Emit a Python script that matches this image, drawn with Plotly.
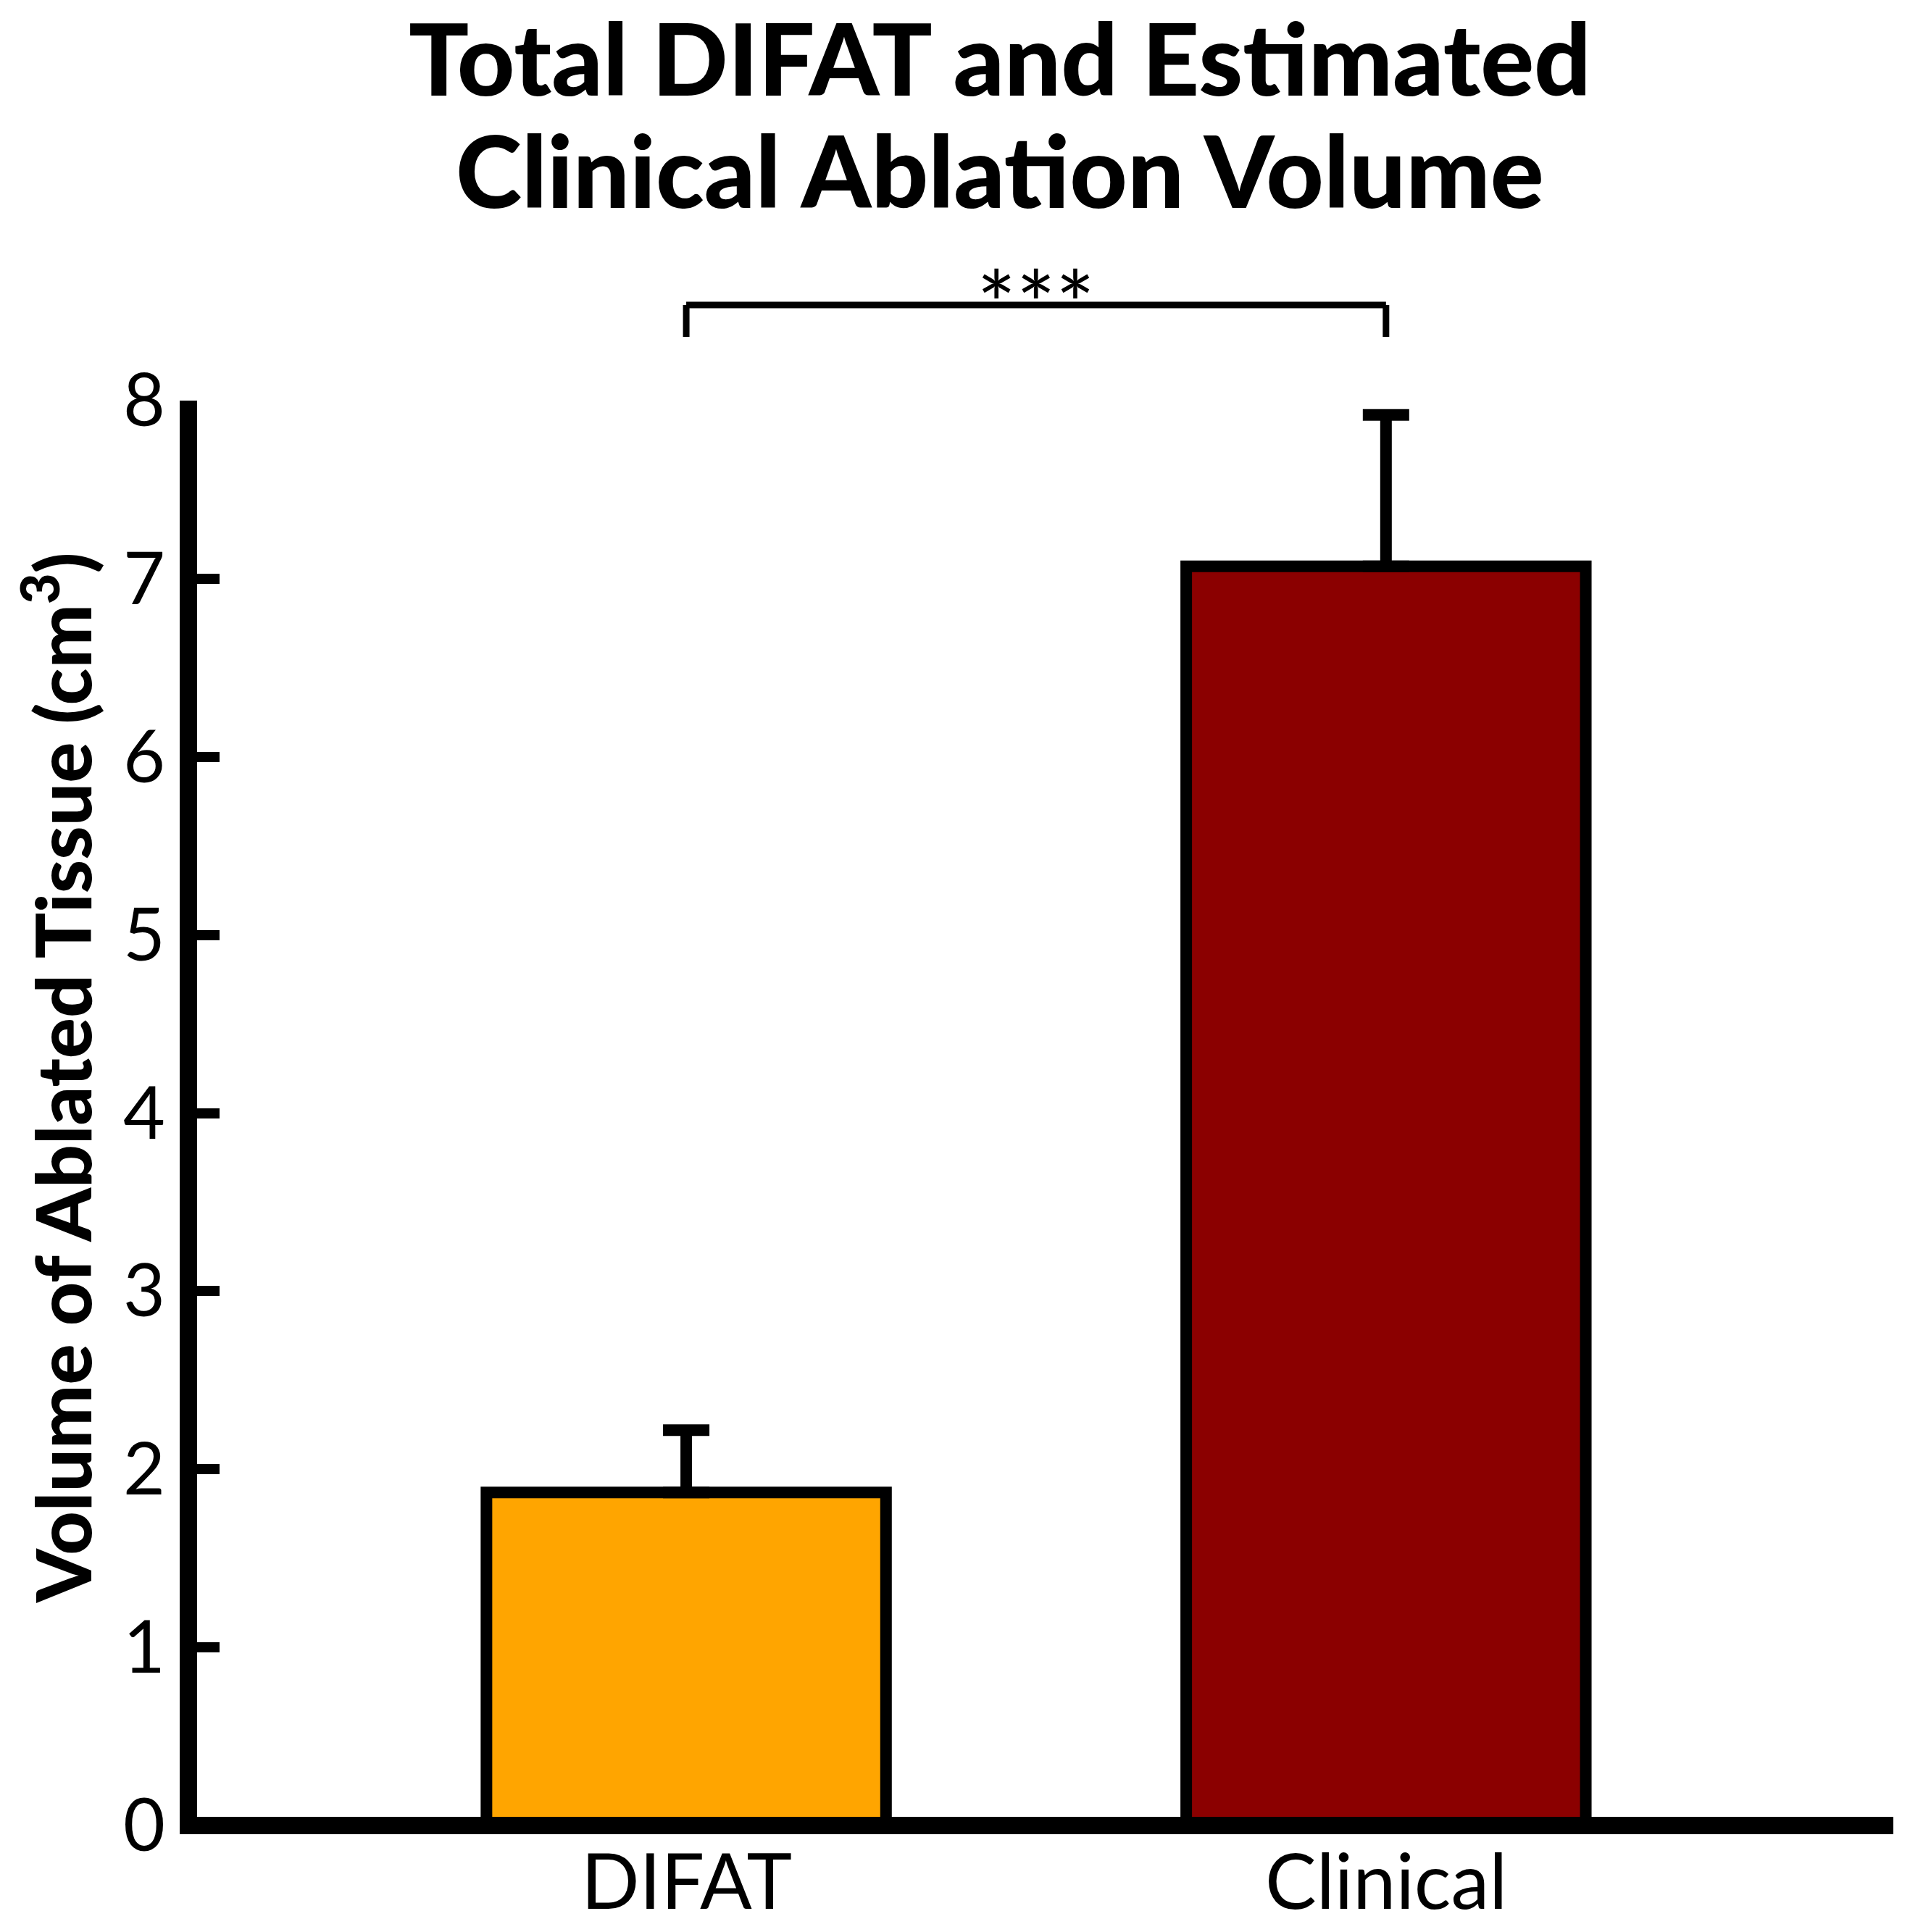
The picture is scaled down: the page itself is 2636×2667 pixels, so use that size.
import plotly.graph_objects as go

# ---- data ----
categories = ["DIFAT", "Clinical"]
means = [1.87, 7.07]
sem_upper = [0.35, 0.85]
bar_colors = ["#FFA500", "#8B0000"]
y_ticks = [0, 1, 2, 3, 4, 5, 6, 7, 8]
significance = "***"
title_lines = ["Total DIFAT and Estimated", "Clinical Ablation Volume"]
y_title = "Volume of Ablated Tissue (cm<sup>3</sup>)"

W, H = 2636, 2667
OFF = 8  # page body margin
# plot area (reference pixel coords of the rendered page)
L_r, R_r, T_r, B_r = 272, 2613, 553, 2520
L, R, T, B = L_r - OFF, R_r - OFF, T_r - OFF, B_r - OFF

def px_x(p):
    return (p - OFF - L) / (R - L)

def px_y(p):
    return (B - (p - OFF)) / (B - T)

fig = go.Figure()
fig.add_trace(go.Bar(
    x=categories, y=means,
    marker=dict(color=bar_colors, line=dict(color="black", width=16)),
    width=0.571,
    error_y=dict(type="data", symmetric=False, array=sem_upper,
                 arrayminus=[0, 0], color="black", thickness=16, width=32),
    showlegend=False,
))

# x-axis baseline (drawn as a shape so it sits where the reference puts it)
fig.add_shape(type="line", xref="paper", yref="paper",
              x0=px_x(248), x1=px_x(2613), y0=px_y(2520), y1=px_y(2520),
              line=dict(color="black", width=24), layer="above")

# significance bracket
yb, yv = px_y(421), px_y(465)
fig.add_shape(type="line", xref="x", yref="paper", x0=0, x1=1, y0=yb, y1=yb,
              line=dict(color="black", width=9))
fig.add_shape(type="line", xref="x", yref="paper", x0=0, x1=0, y0=yb, y1=yv,
              line=dict(color="black", width=9))
fig.add_shape(type="line", xref="x", yref="paper", x0=1, x1=1, y0=yb, y1=yv,
              line=dict(color="black", width=9))
fig.add_annotation(x=0.5, xref="x", y=px_y(417), yref="paper", yanchor="middle",
                   text=significance, showarrow=False,
                   font=dict(family="Lato", size=128, color="black"))

# category labels
for c in categories:
    fig.add_annotation(x=c, xref="x", y=px_y(2594), yref="paper",
                       yanchor="middle", xanchor="center", text=c, showarrow=False,
                       font=dict(family="Lato", size=106, color="black"))

# title lines
for txt, yc in zip(title_lines, [78, 233]):
    fig.add_annotation(x=px_x(1380), xref="paper", y=px_y(yc), yref="paper",
                       xanchor="center", yanchor="middle", text=txt, showarrow=False,
                       height=130, valign="middle",
                       font=dict(family="Lato", size=138, color="black", weight=900))

# y-axis title
fig.add_annotation(x=px_x(78), xref="paper", y=px_y(1488), yref="paper",
                   text=y_title, textangle=-90, showarrow=False,
                   xanchor="center", yanchor="middle",
                   font=dict(family="Lato", size=105, color="black", weight=900))

fig.update_layout(
    width=W, height=H,
    margin=dict(l=L, r=W - R, t=T, b=H - B, pad=0, autoexpand=False),
    paper_bgcolor="white", plot_bgcolor="white",
    xaxis=dict(range=[-0.699, 1.725], showline=False,
               ticks="", showticklabels=False, showgrid=False, zeroline=False,
               automargin=False),
    yaxis=dict(range=[0, 8], tickvals=y_ticks, showline=True, linewidth=24,
               linecolor="black", ticks="inside", ticklen=31, tickwidth=14,
               tickcolor="black", showgrid=False, zeroline=False, automargin=False,
               tickfont=dict(family="Lato", size=100, color="black")),
)

fig.write_html("out.html")
